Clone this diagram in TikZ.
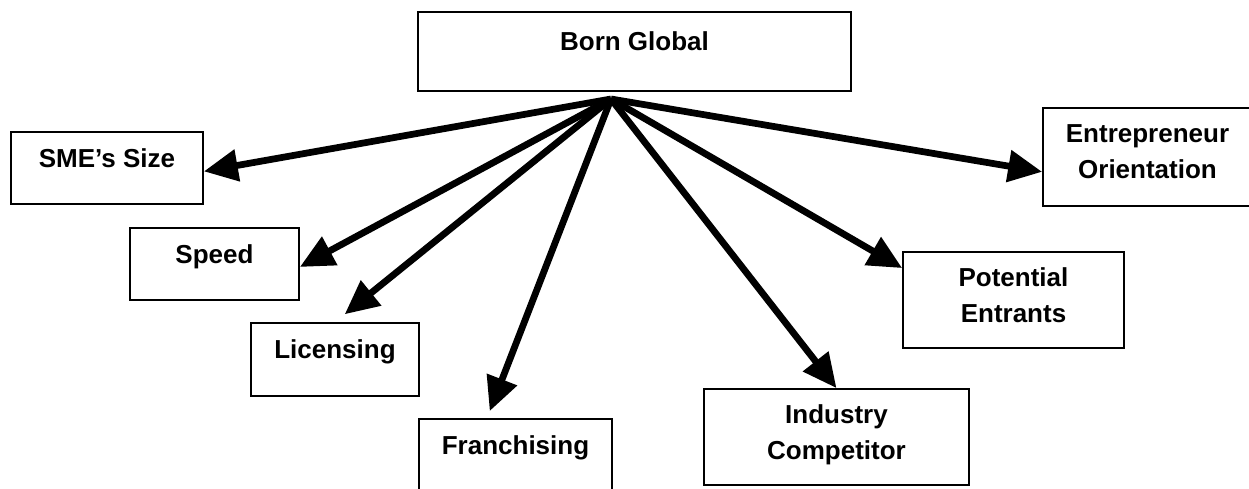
\documentclass[tikz,border=0pt]{standalone}
\usepackage{fontspec}
\setmainfont{Liberation Sans}
\usetikzlibrary{arrows.meta}
\tikzset{
  box/.style={draw, line width=1pt, align=center, inner sep=0pt},
  oneline/.style={box, text height=11pt, text depth=12pt},
  twoline/.style={box, execute at end node={\rule[-6pt]{0pt}{0pt}}},
  arr/.style={line width=0.135cm, -{Triangle[length=0.68cm,width=0.62cm]}}
}
\begin{document}
\begin{tikzpicture}[x=0.02cm, y=-0.02cm, every node/.style={font=\fontsize{14.8}{20.4}\selectfont\bfseries}]
  \useasboundingbox (0,0) rectangle (1249,489);
  % central box and the point the arrows leave from
  \node[oneline, minimum width=8.66cm, minimum height=1.58cm] (born) at (634.5,51.5) {Born Global};
  \coordinate (hub) at (611,99);
  % left-hand factors
  \node[oneline, minimum width=3.84cm, minimum height=1.44cm] (sme) at (107,168) {SME’s Size};
  \node[oneline, minimum width=3.38cm, minimum height=1.44cm] (speed) at (214.5,264) {Speed};
  \node[oneline, minimum width=3.36cm, minimum height=1.46cm] (lic) at (335,359.5) {Licensing};
  \node[oneline, minimum width=3.86cm, minimum height=1.46cm] (fran) at (515.5,455.5) {Franchising};
  % right-hand factors
  \node[twoline, minimum width=5.30cm, minimum height=1.92cm] (ind) at (836.5,437) {Industry\\Competitor};
  \node[twoline, minimum width=4.42cm, minimum height=1.92cm] (pot) at (1013.5,300) {Potential\\Entrants};
  \node[twoline, minimum width=4.18cm, minimum height=1.96cm] (ent) at (1147.5,157) {Entrepreneur\\Orientation};
  % arrows
  \draw[arr] (hub) -- (sme.-2);
  \draw[arr] (hub) -- (speed.-2);
  \draw[arr, shorten >=0.25cm] (hub) -- (lic.north);
  \draw[arr, shorten >=0.15cm] (hub) -- ([xshift=-0.57cm]fran.north);
  \draw[arr] (hub) -- (ind.north);
  \draw[arr] (hub) -- (pot.164);
  \draw[arr] (hub) -- (ent.188);
\end{tikzpicture}
\end{document}
